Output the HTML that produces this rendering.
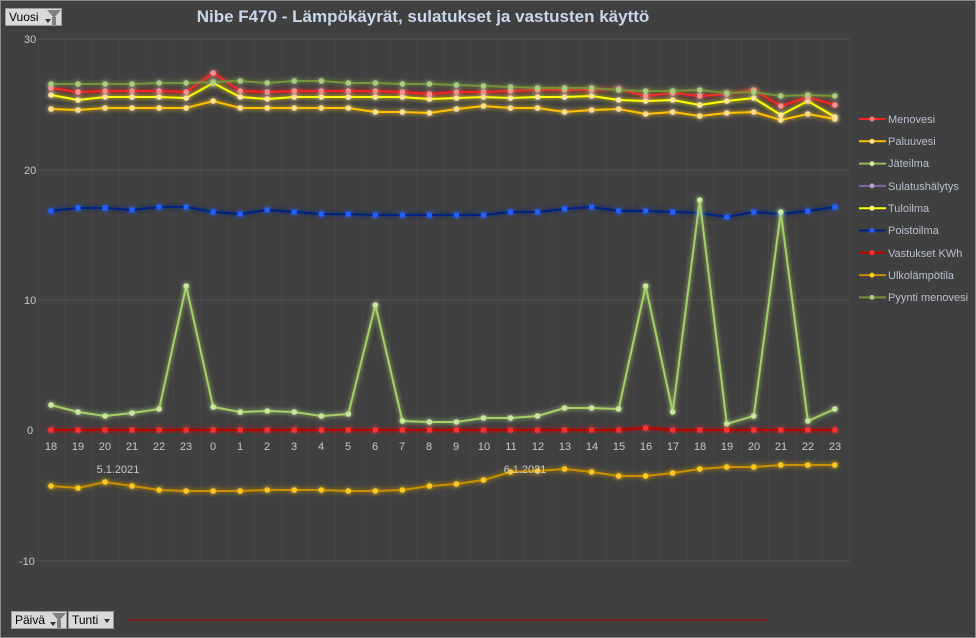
<!DOCTYPE html>
<html><head><meta charset="utf-8"><style>
html,body{margin:0;padding:0;background:#404040;}
body{width:976px;height:638px;overflow:hidden;position:relative;font-family:"Liberation Sans",sans-serif;}
.frame{position:absolute;left:0;top:0;width:974px;height:636px;border:1px solid #8a8a8a;}
.btn{position:absolute;background:#d9d9d9;border:1px solid #999;font-size:12px;color:#000;height:18px;line-height:17px;padding-left:3px;box-sizing:border-box;white-space:nowrap;overflow:hidden;}
.fun{position:absolute;top:1px;width:0;height:0;border-left:7px solid transparent;border-right:7px solid transparent;border-top:8px solid #808080;}
.stem{position:absolute;top:8px;width:4px;height:8px;background:#808080;}
.ar{position:absolute;width:0;height:0;border-left:3px solid transparent;border-right:3px solid transparent;border-top:4px solid #333;}
</style></head><body>
<div class="frame"></div>
<div class="btn" style="left:5px;top:8px;width:57px;">Vuosi<span class="ar" style="left:39px;top:10px"></span><span class="fun" style="left:41px"></span><span class="stem" style="left:46px"></span></div>
<div style="position:absolute;left:0;width:846px;top:7px;text-align:center;font-size:17px;font-weight:bold;color:#c9d7ea;">Nibe F470 - Lämpökäyrät, sulatukset ja vastusten käyttö</div>
<div class="btn" style="left:11px;top:611px;width:56px;">Päivä<span class="ar" style="left:38px;top:10px"></span><span class="fun" style="left:40px"></span><span class="stem" style="left:45px"></span></div>
<div class="btn" style="left:68px;top:611px;width:46px;">Tunti<span class="ar" style="left:35px;top:7px"></span></div>
<svg width="976" height="638" style="position:absolute;left:0;top:0" xmlns="http://www.w3.org/2000/svg">
<defs><filter id="g" x="-10%" y="-10%" width="120%" height="120%"><feGaussianBlur stdDeviation="2.5" result="b"/><feMerge><feMergeNode in="b"/><feMergeNode in="SourceGraphic"/></feMerge></filter></defs>
<g id="grid" stroke="#474747" stroke-width="1"></g>
<line x1="38" y1="39" x2="850" y2="39" stroke="#525252"/>
<line x1="38" y1="170" x2="850" y2="170" stroke="#525252"/>
<line x1="38" y1="300" x2="850" y2="300" stroke="#525252"/>
<line x1="38" y1="561" x2="850" y2="561" stroke="#525252"/>
<line x1="128" y1="620" x2="768" y2="620" stroke="#b00000" stroke-width="1"/>
<g id="series"></g>
<g font-family="Liberation Sans, sans-serif" font-size="11" fill="#c8c8c8">
<text x="24" y="43">30</text><text x="24" y="174">20</text><text x="24" y="304">10</text><text x="27" y="434">0</text><text x="19" y="565">-10</text>
<g text-anchor="middle" font-size="11">
<text x="51" y="450">18</text><text x="78" y="450">19</text><text x="105" y="450">20</text><text x="132" y="450">21</text><text x="159" y="450">22</text><text x="186" y="450">23</text><text x="213" y="450">0</text><text x="240" y="450">1</text><text x="267" y="450">2</text><text x="294" y="450">3</text><text x="321" y="450">4</text><text x="348" y="450">5</text><text x="375" y="450">6</text><text x="402" y="450">7</text><text x="429" y="450">8</text><text x="456" y="450">9</text><text x="484" y="450">10</text><text x="511" y="450">11</text><text x="538" y="450">12</text><text x="565" y="450">13</text><text x="592" y="450">14</text><text x="619" y="450">15</text><text x="646" y="450">16</text><text x="673" y="450">17</text><text x="700" y="450">18</text><text x="727" y="450">19</text><text x="754" y="450">20</text><text x="781" y="450">21</text><text x="808" y="450">22</text><text x="835" y="450">23</text>
<text x="118" y="473">5.1.2021</text><text x="525" y="473">6.1.2021</text>
</g>
<g font-size="11" fill="#b8c0cc">
<text x="888" y="123">Menovesi</text><text x="888" y="145">Paluuvesi</text><text x="888" y="167">Jäteilma</text><text x="888" y="190">Sulatushälytys</text><text x="888" y="212">Tuloilma</text><text x="888" y="234">Poistoilma</text><text x="888" y="257">Vastukset KWh</text><text x="888" y="279">Ulkolämpötila</text><text x="888" y="301">Pyynti menovesi</text>
</g></g>
<g id="leg"></g>
</svg>
<script>
var NS="http://www.w3.org/2000/svg";
function el(t,a,p){var e=document.createElementNS(NS,t);for(var k in a)e.setAttribute(k,a[k]);p.appendChild(e);return e;}
var grid=document.getElementById('grid');
for(var k=0;k<=30;k++){var x=38+k*27.05;el('line',{x1:x,y1:39,x2:x,y2:561},grid);}
function X(i){return 51+i*27.03;}
var S=[
{c:'#ffff00',d:'#ffe8a0',p:[95,100,97,97,97,98,83,97,99,97,97,97,97,97,99,98,97,98,97,97,96,100,101,100,105,101,98,115,101,117]},
{c:'#ffc000',d:'#ffe090',p:[109,110,108,108,108,108,101,108,108,108,108,108,112,112,113,109,106,108,108,112,110,109,114,112,116,113,112,120,114,119]},
{c:'#ff2020',d:'#ff9090',p:[88,92,91,91,91,92,73,91,92,91,91,91,91,92,94,92,92,91,90,90,90,89,96,93,96,94,90,106,97,105]},
{c:'#76933c',d:'#a8cc80',p:[84,84,84,84,83,83,82,81,83,81,81,83,83,84,84,85,86,87,88,88,88,90,91,91,90,93,92,96,95,96]},
{c:'#002080',d:'#2060ff',p:[211,208,208,210,207,207,212,214,210,212,214,214,215,215,215,215,215,212,212,209,207,211,211,212,213,217,212,214,211,207]},
{c:'#a6cf6a',d:'#c8e8a0',p:[405,412,416,413,409,286,407,412,411,412,416,414,305,421,422,422,418,418,416,408,408,409,286,412,200,424,416,212,421,409]},
{c:'#c00000',d:'#ff3030',p:[430,430,430,430,430,430,430,430,430,430,430,430,430,430,430,430,430,430,430,430,430,430,428,430,430,430,430,430,430,430]},
{c:'#c89000',d:'#ffc820',p:[486,488,482,486,490,491,491,491,490,490,490,491,491,490,486,484,480,472,471,469,472,476,476,473,469,467,467,465,465,465]}
];
var g=document.getElementById('series');
S.forEach(function(s){var gg=el('g',{filter:'url(#g)'},g);
var pts=s.p.map(function(y,i){return X(i)+','+y}).join(' ');
el('polyline',{points:pts,fill:'none',stroke:s.c,'stroke-width':2},gg);
s.p.forEach(function(y,i){el('circle',{cx:X(i),cy:y,r:2.8,fill:s.d},gg);});});
var L=[['#ff2020','#ff8080'],['#ffc000','#ffe090'],['#9bbb59','#c8e8a0'],['#8064a2','#b0a0d0'],['#ffff00','#ffff80'],['#002080','#2060ff'],['#c00000','#ff3030'],['#c89000','#ffc820'],['#76933c','#a8cc80']];
var lg=document.getElementById('leg');
L.forEach(function(c,i){var y=119+i*22.3;el('line',{x1:859,y1:y,x2:886,y2:y,stroke:c[0],'stroke-width':2},lg);el('circle',{cx:872,cy:y,r:2.5,fill:c[1]},lg);});
</script>
</body></html>
